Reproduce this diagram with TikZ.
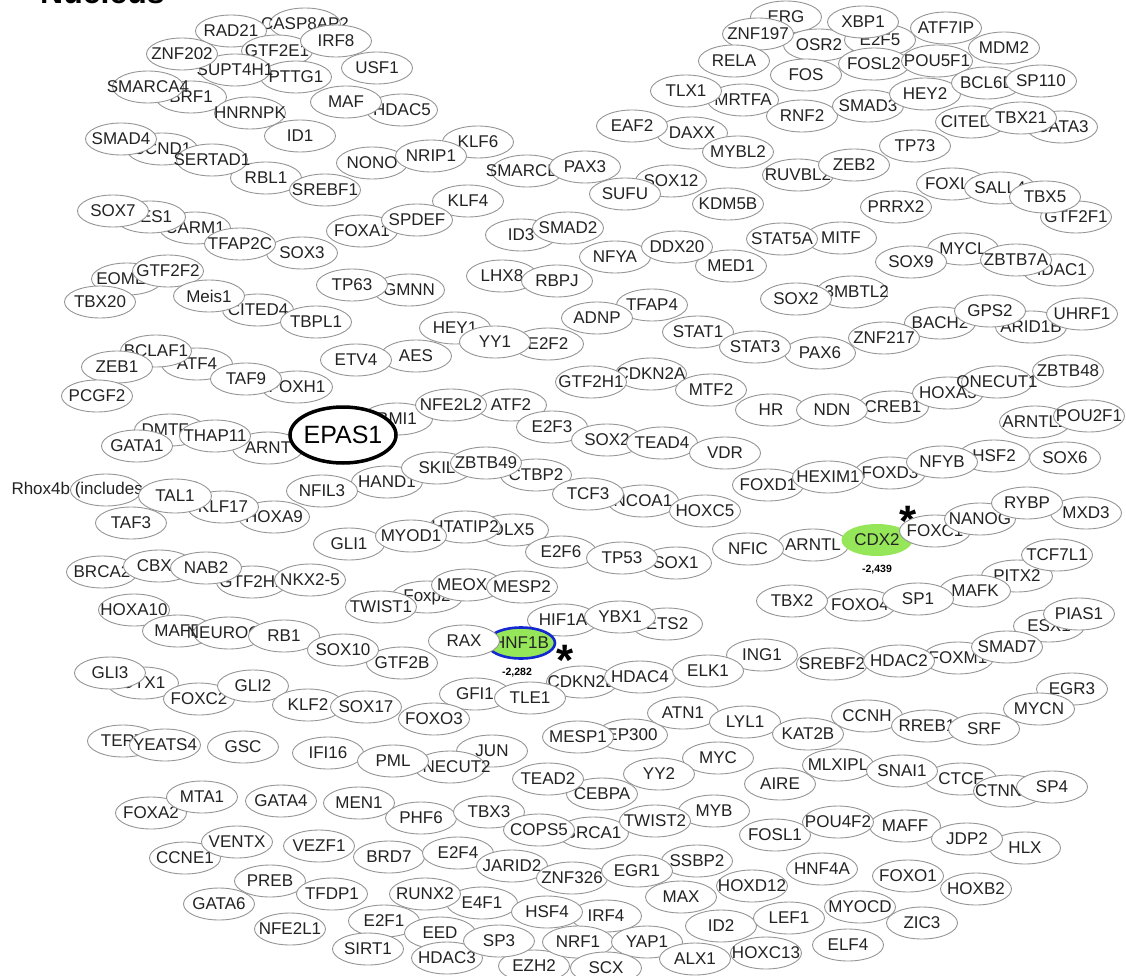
\documentclass[tikz,border=0pt]{standalone}
\usepackage{fontspec}
\setmainfont{Liberation Sans}
\usetikzlibrary{shapes.geometric}
\definecolor{edgegray}{RGB}{150,150,150}
\definecolor{txtgray}{RGB}{35,35,35}
\definecolor{hitgreen}{RGB}{150,230,90}
\definecolor{hitblue}{RGB}{20,40,210}
\tikzset{
  tf/.style={ellipse, draw=edgegray, line width=0.9pt, fill=white, text=txtgray,
    minimum width=71pt, minimum height=32pt, inner sep=0pt,
    font=\fontsize{17}{17}\selectfont,
    execute at begin node={\hbox to 0pt\bgroup\hss},
    execute at end node={\hss\egroup}},
  hit/.style={tf, fill=hitgreen},
  fc/.style={font=\bfseries\fontsize{10.5}{10.5}\selectfont, text=black},
  asterisk/.style={anchor=base, inner sep=0pt, font=\bfseries\fontsize{44}{44}\selectfont}
}
\begin{document}
\begin{tikzpicture}[x=1pt,y=-1pt]
  \useasboundingbox (0,0) rectangle (1126,976);
  \node[anchor=base west, inner sep=0pt, font=\bfseries\fontsize{32}{32}\selectfont] (nucleus) at (40,4) {Nucleus};
  % upper left
  \node[tf] (CASP8AP2) at (305,24) {CASP8AP2};
  \node[tf] (RAD21) at (231,31) {RAD21};
  \node[tf] (GTF2E1) at (277,51) {GTF2E1};
  \node[tf] (IRF8) at (336,41) {IRF8};
  \node[tf] (PTTG1) at (296,77) {PTTG1};
  \node[tf] (SUPT4H1) at (235,70) {SUPT4H1};
  \node[tf] (ZNF202) at (182,54) {ZNF202};
  \node[tf] (USF1) at (377,68) {USF1};
  \node[tf] (BRF1) at (191,97) {BRF1};
  \node[tf] (SMARCA4) at (148,87) {SMARCA4};
  \node[tf] (HNRNPK) at (250,113) {HNRNPK};
  \node[tf] (HDAC5) at (402,110) {HDAC5};
  \node[tf] (MAF) at (346,102) {MAF};
  \node[tf] (ID1) at (300,136) {ID1};
  \node[tf] (CCND1) at (162,149) {CCND1};
  \node[tf] (SMAD4) at (121,139) {SMAD4};
  \node[tf] (RBL1) at (266,178) {RBL1};
  \node[tf] (SERTAD1) at (212,160) {SERTAD1};
  \node[tf] (SREBF1) at (325,190) {SREBF1};
  \node[tf] (KLF6) at (478,142) {KLF6};
  \node[tf] (NONO) at (372,163) {NONO};
  \node[tf] (NRIP1) at (431,156) {NRIP1};
  \node[tf] (SMARCB1) at (527,171) {SMARCB1};
  \node[tf] (PAX3) at (585,167) {PAX3};
  \node[tf] (SOX12) at (671,181) {SOX12};
  \node[tf] (SUFU) at (625,194) {SUFU};
  \node[tf] (KDM5B) at (728,204) {KDM5B};
  \node[tf] (CARM1) at (195,228) {CARM1};
  \node[tf] (HES1) at (150,217) {HES1};
  \node[tf] (SOX7) at (113,211) {SOX7};
  \node[tf] (SOX3) at (302,253) {SOX3};
  \node[tf] (TFAP2C) at (240,244) {TFAP2C};
  \node[tf] (FOXA1) at (362,231) {FOXA1};
  \node[tf] (KLF4) at (468,201) {KLF4};
  \node[tf] (SPDEF) at (417,220) {SPDEF};
  \node[tf] (ID3) at (521,235) {ID3};
  \node[tf] (SMAD2) at (568,228) {SMAD2};
  \node[tf] (EOMES) at (127,279) {EOMES};
  \node[tf] (GTF2F2) at (168,271) {GTF2F2};
  \node[tf] (TBX20) at (100,302) {TBX20};
  \node[tf] (CITED4) at (258,310) {CITED4};
  \node[tf] (Meis1) at (209,296) {Meis1};
  \node[tf] (TBPL1) at (316,322) {TBPL1};
  \node[tf] (GMNN) at (409,290) {GMNN};
  \node[tf] (TP63) at (352,285) {TP63};
  \node[tf] (LHX8) at (502,276) {LHX8};
  \node[tf] (RBPJ) at (557,281) {RBPJ};
  \node[tf] (NFYA) at (615,257) {NFYA};
  \node[tf] (MED1) at (731,266) {MED1};
  \node[tf] (DDX20) at (677,247) {DDX20};
  \node[tf] (TFAP4) at (652,305) {TFAP4};
  \node[tf] (ADNP) at (597,318) {ADNP};
  \node[tf] (STAT1) at (698,332) {STAT1};
  \node[tf] (PAX6) at (820,353) {PAX6};
  \node[tf] (STAT3) at (755,347) {STAT3};
  % upper right
  \node[tf] (ERG) at (786,17) {ERG};
  \node[tf] (OSR2) at (819,45) {OSR2};
  \node[tf] (ZNF197) at (758,34) {ZNF197};
  \node[tf] (RELA) at (734,61) {RELA};
  \node[tf] (FOS) at (806,75) {FOS};
  \node[tf] (MRTFA) at (743,100) {MRTFA};
  \node[tf] (TLX1) at (686,91) {TLX1};
  \node[tf] (RNF2) at (802,116) {RNF2};
  \node[tf] (DAXX) at (692,133) {DAXX};
  \node[tf] (EAF2) at (632,126) {EAF2};
  \node[tf] (MYBL2) at (738,152) {MYBL2};
  \node[tf] (E2F5) at (880,40) {E2F5};
  \node[tf] (XBP1) at (863,22) {XBP1};
  \node[tf] (ATF7IP) at (946,28) {ATF7IP};
  \node[tf] (MDM2) at (1004,48) {MDM2};
  \node[tf] (FOSL2) at (874,64) {FOSL2};
  \node[tf] (POU5F1) at (937,61) {POU5F1};
  \node[tf] (SMAD3) at (868,106) {SMAD3};
  \node[tf] (HEY2) at (925,94) {HEY2};
  \node[tf] (BCL6B) at (987,83) {BCL6B};
  \node[tf] (SP110) at (1041,81) {SP110};
  \node[tf] (CITED2) at (971,122) {CITED2};
  \node[tf] (GATA3) at (1062,127) {GATA3};
  \node[tf] (TBX21) at (1021,118) {TBX21};
  \node[tf] (TP73) at (915,146) {TP73};
  \node[tf] (RUVBL2) at (798,175) {RUVBL2};
  \node[tf] (ZEB2) at (854,165) {ZEB2};
  \node[tf] (FOXL2) at (952,184) {FOXL2};
  \node[tf] (SALL4) at (1000,188) {SALL4};
  \node[tf] (GTF2F1) at (1076,217) {GTF2F1};
  \node[tf] (TBX5) at (1045,197) {TBX5};
  \node[tf] (PRRX2) at (896,207) {PRRX2};
  \node[tf] (MITF) at (841,238) {MITF};
  \node[tf] (STAT5A) at (782,239) {STAT5A};
  \node[tf] (MYCL) at (963,249) {MYCL};
  \node[tf] (SOX9) at (911,262) {SOX9};
  \node[tf] (HDAC1) at (1058,270) {HDAC1};
  \node[tf] (ZBTB7A) at (1016,260) {ZBTB7A};
  \node[tf] (L3MBTL2) at (852,292) {L3MBTL2};
  \node[tf] (SOX2a) at (796,299) {SOX2};
  \node[tf] (BACH2) at (940,323) {BACH2};
  \node[tf] (ARID1B) at (1031,327) {ARID1B};
  \node[tf] (GPS2) at (990,311) {GPS2};
  \node[tf] (UHRF1) at (1082,314) {UHRF1};
  \node[tf] (ZNF217) at (884,338) {ZNF217};
  % middle
  \node[tf] (HEY1) at (455,328) {HEY1};
  \node[tf] (E2F2) at (548,344) {E2F2};
  \node[tf] (YY1) at (495,342) {YY1};
  \node[tf] (AES) at (416,356) {AES};
  \node[tf] (ETV4) at (356,360) {ETV4};
  \node[tf] (FOXH1) at (297,387) {FOXH1};
  \node[tf] (ATF4) at (197,364) {ATF4};
  \node[tf] (TAF9) at (246,379) {TAF9};
  \node[tf] (BCLAF1) at (156,351) {BCLAF1};
  \node[tf] (ZEB1) at (117,367) {ZEB1};
  \node[tf] (PCGF2) at (97,396) {PCGF2};
  \node[tf] (DMTF1) at (170,430) {DMTF1};
  \node[tf] (GATA1) at (137,446) {GATA1};
  \node[tf] (ARNT) at (268,448) {ARNT};
  \node[tf] (THAP11) at (215,436) {THAP11};
  \node[tf] (BMI1) at (397,419) {BMI1};
  \node[tf, draw=black, line width=3.5pt, text=black, minimum width=106pt, minimum height=56pt,
    font=\fontsize{25}{25}\selectfont] (EPAS1) at (343,435) {EPAS1};
  \node[tf] (ATF2) at (511,405) {ATF2};
  \node[tf] (NFE2L2) at (451,405) {NFE2L2};
  \node[tf] (E2F3) at (552,427) {E2F3};
  \node[tf] (CDKN2A) at (651,374) {CDKN2A};
  \node[tf] (GTF2H1) at (591,382) {GTF2H1};
  \node[tf] (MTF2) at (711,390) {MTF2};
  \node[tf] (HR) at (771,410) {HR};
  \node[tf] (CREB1) at (893,407) {CREB1};
  \node[tf] (NDN) at (832,410) {NDN};
  \node[tf] (HOXA5) at (948,393) {HOXA5};
  \node[tf] (ONECUT1) at (997,382) {ONECUT1};
  \node[tf] (ZBTB48) at (1068,371) {ZBTB48};
  \node[tf] (ARNTL2) at (1035,422) {ARNTL2};
  \node[tf] (POU2F1) at (1089,416) {POU2F1};
  \node[tf] (SOX2b) at (607,440) {SOX2};
  \node[tf] (TEAD4) at (662,443) {TEAD4};
  \node[tf] (VDR) at (725,453) {VDR};
  \node[tf] (FOXD1) at (768,485) {FOXD1};
  \node[tf] (FOXD3) at (890,473) {FOXD3};
  \node[tf] (HEXIM1) at (828,477) {HEXIM1};
  \node[tf] (HSF2) at (994,456) {HSF2};
  \node[tf] (NFYB) at (942,462) {NFYB};
  \node[tf] (SOX6) at (1065,458) {SOX6};
  \node[tf] (CTBP2) at (536,475) {CTBP2};
  \node[tf] (HAND1) at (387,482) {HAND1};
  \node[tf] (NFIL3) at (322,491) {NFIL3};
  \node[tf] (SKIL) at (437,468) {SKIL};
  \node[tf] (ZBTB49) at (486,463) {ZBTB49};
  \node[tf] (NCOA1) at (643,501) {NCOA1};
  \node[tf] (TCF3) at (588,494) {TCF3};
  \node[tf] (HOXC5) at (705,511) {HOXC5};
  \node[tf] (Rhox4b) at (106,490) {Rhox4b (includes others)};
  \node[tf] (HOXA9) at (274,517) {HOXA9};
  \node[tf] (KLF17) at (223,507) {KLF17};
  \node[tf, minimum width=73pt, minimum height=34pt] (TAL1) at (175,496) {TAL1};
  \node[tf] (TAF3) at (131,523) {TAF3};
  \node[tf] (GLI1) at (349,544) {GLI1};
  \node[tf] (DLX5) at (513,530) {DLX5};
  \node[tf] (HTATIP2) at (465,527) {HTATIP2};
  \node[tf] (MYOD1) at (411,536) {MYOD1};
  \node[tf] (E2F6) at (561,552) {E2F6};
  \node[tf] (SOX1) at (676,563) {SOX1};
  \node[tf] (TP53) at (622,558) {TP53};
  \node[tf] (ARNTL) at (813,545) {ARNTL};
  \node[tf] (NFIC) at (748,549) {NFIC};
  \node[hit, draw=none] (CDX2) at (877,540) {CDX2};
  \node[fc] (CDX2val) at (877,570) {-2,439};
  \node[asterisk] (CDX2star) at (908,536) {*};
  \node[tf] (FOXC1) at (935,531) {FOXC1};
  \node[tf] (MXD3) at (1086,513) {MXD3};
  \node[tf] (NANOG) at (980,519) {NANOG};
  \node[tf] (RYBP) at (1027,503) {RYBP};
  \node[tf] (PITX2) at (1017,576) {PITX2};
  \node[tf] (TCF7L1) at (1057,555) {TCF7L1};
  \node[tf] (MAFK) at (975,591) {MAFK};
  \node[tf] (FOXO4) at (860,605) {FOXO4};
  \node[tf] (SP1) at (918,599) {SP1};
  \node[tf] (TBX2) at (792,601) {TBX2};
  \node[tf] (ESX1) at (1049,626) {ESX1};
  \node[tf] (PIAS1) at (1079,614) {PIAS1};
  \node[tf] (BRCA2) at (102,572) {BRCA2};
  \node[tf] (CBX4) at (159,566) {CBX4};
  \node[tf] (GTF2H2) at (252,582) {GTF2H2};
  \node[tf] (NAB2) at (206,568) {NAB2};
  \node[tf] (NKX2-5) at (310,580) {NKX2-5};
  \node[tf] (HOXA10) at (134,610) {HOXA10};
  \node[tf] (MAFB) at (178,631) {MAFB};
  \node[tf] (NEUROG2) at (229,633) {NEUROG2};
  \node[tf] (RB1) at (284,636) {RB1};
  \node[tf] (Foxp2) at (427,597) {Foxp2};
  \node[tf] (TWIST1) at (381,607) {TWIST1};
  \node[tf] (MEOX1) at (467,585) {MEOX1};
  \node[tf] (MESP2) at (522,587) {MESP2};
  \node[tf] (HIF1A) at (563,620) {HIF1A};
  \node[tf] (ETS2) at (667,624) {ETS2};
  \node[tf] (YBX1) at (620,617) {YBX1};
  \node[hit, draw=hitblue, line width=2.6pt, minimum width=68pt, minimum height=31pt] (HNF1B) at (521,643) {HNF1B};
  \node[tf] (RAX) at (464,641) {RAX};
  \node[fc] (HNF1Bval) at (517,673) {-2,282};
  \node[asterisk] (HNF1Bstar) at (565,675) {*};
  \node[tf] (GTF2B) at (402,663) {GTF2B};
  \node[tf] (SOX10) at (343,650) {SOX10};
  \node[tf] (FOXM1) at (958,658) {FOXM1};
  \node[tf] (SREBF2) at (832,664) {SREBF2};
  \node[tf] (HDAC2) at (899,661) {HDAC2};
  \node[tf] (SMAD7) at (1007,647) {SMAD7};
  \node[tf] (ING1) at (762,655) {ING1};
  \node[tf] (CDKN2B) at (582,682) {CDKN2B};
  \node[tf] (HDAC4) at (640,677) {HDAC4};
  \node[tf] (ELK1) at (708,671) {ELK1};
  \node[tf] (GFI1) at (475,694) {GFI1};
  \node[tf] (TLE1) at (530,698) {TLE1};
  % lower part
  \node[tf] (OTX1) at (143,683) {OTX1};
  \node[tf] (GLI3) at (110,673) {GLI3};
  \node[tf] (FOXC2) at (199,699) {FOXC2};
  \node[tf] (GLI2) at (253,686) {GLI2};
  \node[tf] (KLF2) at (308,705) {KLF2};
  \node[tf] (SOX17) at (366,707) {SOX17};
  \node[tf] (FOXO3) at (434,719) {FOXO3};
  \node[tf] (TERT) at (123,741) {TERT};
  \node[tf] (YEATS4) at (165,745) {YEATS4};
  \node[tf] (GSC) at (243,747) {GSC};
  \node[tf] (IFI16) at (328,753) {IFI16};
  \node[tf] (JUN) at (492,751) {JUN};
  \node[tf] (ONECUT2) at (450,767) {ONECUT2};
  \node[tf] (PML) at (393,761) {PML};
  \node[tf] (EP300) at (632,735) {EP300};
  \node[tf] (MESP1) at (578,737) {MESP1};
  \node[tf] (ATN1) at (683,713) {ATN1};
  \node[tf] (LYL1) at (745,722) {LYL1};
  \node[tf] (KAT2B) at (808,734) {KAT2B};
  \node[tf] (CCNH) at (867,716) {CCNH};
  \node[tf] (RREB1) at (927,726) {RREB1};
  \node[tf] (EGR3) at (1072,689) {EGR3};
  \node[tf] (MYCN) at (1039,709) {MYCN};
  \node[tf] (SRF) at (984,729) {SRF};
  \node[tf] (MLXIPL) at (838,765) {MLXIPL};
  \node[tf] (CTCF) at (961,779) {CTCF};
  \node[tf] (SNAI1) at (902,771) {SNAI1};
  \node[tf] (CTNNB1) at (1009,791) {CTNNB1};
  \node[tf] (SP4) at (1052,787) {SP4};
  \node[tf] (AIRE) at (780,784) {AIRE};
  \node[tf] (MYC) at (718,758) {MYC};
  \node[tf] (YY2) at (659,774) {YY2};
  \node[tf] (CEBPA) at (602,794) {CEBPA};
  \node[tf] (TEAD2) at (548,779) {TEAD2};
  \node[tf] (FOXA2) at (151,813) {FOXA2};
  \node[tf] (MTA1) at (202,797) {MTA1};
  \node[tf] (GATA4) at (281,801) {GATA4};
  \node[tf] (MEN1) at (359,803) {MEN1};
  \node[tf] (PHF6) at (421,818) {PHF6};
  \node[tf] (TBX3) at (489,812) {TBX3};
  \node[tf] (BRCA1) at (593,833) {BRCA1};
  \node[tf] (COPS5) at (539,830) {COPS5};
  \node[tf] (MYB) at (714,811) {MYB};
  \node[tf] (TWIST2) at (655,821) {TWIST2};
  \node[tf] (FOSL1) at (775,835) {FOSL1};
  \node[tf] (MAFF) at (905,826) {MAFF};
  \node[tf] (POU4F2) at (838,822) {POU4F2};
  \node[tf] (HLX) at (1025,848) {HLX};
  \node[tf] (JDP2) at (967,839) {JDP2};
  \node[tf] (HNF4A) at (822,869) {HNF4A};
  \node[tf] (HOXB2) at (976,889) {HOXB2};
  \node[tf] (FOXO1) at (908,876) {FOXO1};
  \node[tf] (ZIC3) at (922,923) {ZIC3};
  \node[tf] (MYOCD) at (860,907) {MYOCD};
  \node[tf] (ELF4) at (848,945) {ELF4};
  \node[tf] (CCNE1) at (185,858) {CCNE1};
  \node[tf] (VENTX) at (237,842) {VENTX};
  \node[tf] (VEZF1) at (319,846) {VEZF1};
  \node[tf] (BRD7) at (389,857) {BRD7};
  \node[tf] (E2F4) at (458,853) {E2F4};
  \node[tf] (JARID2) at (512,866) {JARID2};
  \node[tf] (ZNF326) at (572,878) {ZNF326};
  \node[tf] (SSBP2) at (697,861) {SSBP2};
  \node[tf] (EGR1) at (637,871) {EGR1};
  \node[tf] (HOXD12) at (752,886) {HOXD12};
  \node[tf] (MAX) at (681,897) {MAX};
  \node[tf] (PREB) at (270,881) {PREB};
  \node[tf] (TFDP1) at (332,894) {TFDP1};
  \node[tf] (GATA6) at (219,904) {GATA6};
  \node[tf] (NFE2L1) at (290,929) {NFE2L1};
  \node[tf] (E4F1) at (482,903) {E4F1};
  \node[tf] (RUNX2) at (425,894) {RUNX2};
  \node[tf] (E2F1) at (384,921) {E2F1};
  \node[tf] (SIRT1) at (368,949) {SIRT1};
  \node[tf] (EED) at (440,933) {EED};
  \node[tf] (HDAC3) at (447,958) {HDAC3};
  \node[tf] (EZH2) at (534,966) {EZH2};
  \node[tf] (SP3) at (499,941) {SP3};
  \node[tf] (IRF4) at (606,916) {IRF4};
  \node[tf] (HSF4) at (547,912) {HSF4};
  \node[tf] (NRF1) at (578,942) {NRF1};
  \node[tf] (YAP1) at (647,942) {YAP1};
  \node[tf] (SCX) at (606,968) {SCX};
  \node[tf] (ID2) at (721,926) {ID2};
  \node[tf] (LEF1) at (789,918) {LEF1};
  \node[tf] (HOXC13) at (766,953) {HOXC13};
  \node[tf] (ALX1) at (695,959) {ALX1};
\end{tikzpicture}
\end{document}
